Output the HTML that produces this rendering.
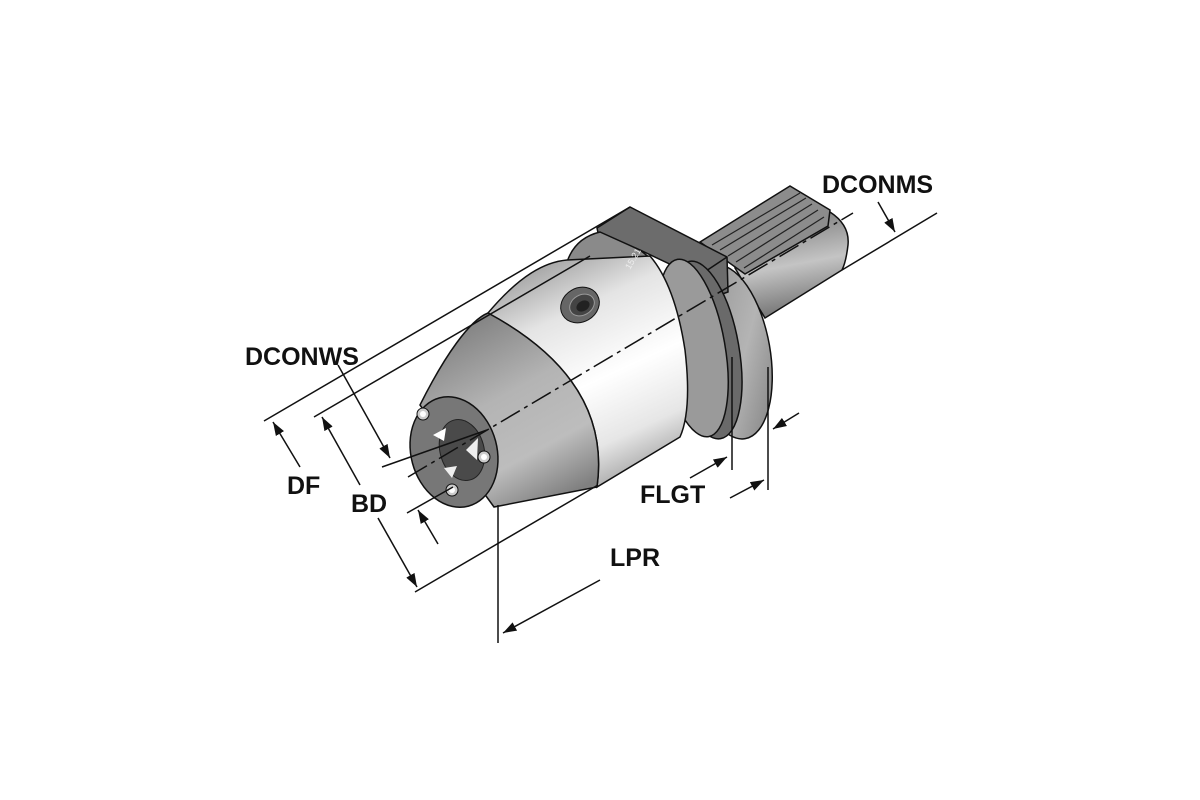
<!DOCTYPE html>
<html><head><meta charset="utf-8"><style>
html,body{margin:0;padding:0;background:#fff;}
svg{display:block;}
text{font-family:"Liberation Sans",Arial,sans-serif;font-weight:bold;font-size:25px;fill:#111;}
</style></head><body>
<svg width="1200" height="800" viewBox="0 0 1200 800" xmlns="http://www.w3.org/2000/svg">
<defs>
<marker id="ah" viewBox="0 0 10 10" refX="10" refY="5" markerWidth="9" markerHeight="9" orient="auto-start-reverse">
<path d="M0,1.5 L10,5 L0,8.5 Z" fill="#111"/></marker>
<linearGradient id="silver" x1="0.3" y1="0" x2="0.7" y2="1">
<stop offset="0" stop-color="#a0a0a0"/><stop offset="0.25" stop-color="#e4e4e4"/><stop offset="0.55" stop-color="#ffffff"/><stop offset="0.8" stop-color="#e6e6e6"/><stop offset="1" stop-color="#a0a0a0"/></linearGradient>
<linearGradient id="cone" x1="0.2" y1="0" x2="0.7" y2="1">
<stop offset="0" stop-color="#7a7a7a"/><stop offset="0.45" stop-color="#b4b4b4"/><stop offset="0.75" stop-color="#bdbdbd"/><stop offset="1" stop-color="#808080"/></linearGradient>
<linearGradient id="shank" x1="0.4" y1="0" x2="0.6" y2="1">
<stop offset="0" stop-color="#7a7a7a"/><stop offset="0.5" stop-color="#c4c4c4"/><stop offset="1" stop-color="#6a6a6a"/></linearGradient>
<linearGradient id="flange" x1="0" y1="0" x2="1" y2="1">
<stop offset="0" stop-color="#8a8a8a"/><stop offset="0.6" stop-color="#b4b4b4"/><stop offset="1" stop-color="#7a7a7a"/></linearGradient>
</defs>

<!-- shank -->
<path d="M735,268 L830,212 Q850,225 848,245 Q846,262 842,270 L765,318 Z" fill="url(#shank)" stroke="#111" stroke-width="1.5"/>
<!-- serrated block -->
<path d="M700,242 L790,186 L830,210 L828,226 L745,274 Z" fill="#8c8c8c" stroke="#111" stroke-width="1.5"/>
<g stroke="#222" stroke-width="1.2">
<line x1="712" y1="245" x2="800" y2="193"/><line x1="720" y1="250" x2="806" y2="198"/>
<line x1="728" y1="256" x2="812" y2="204"/><line x1="736" y1="262" x2="818" y2="210"/>
<line x1="744" y1="268" x2="824" y2="217"/>
</g>
<!-- flange disc -->
<ellipse cx="730" cy="352" rx="40" ry="88" transform="rotate(-10 730 352)" fill="url(#flange)" stroke="#111" stroke-width="1.5"/>
<!-- dark hex block -->
<path d="M597,228 L630,207 L727,257 L728,292 L700,302 L697,277 L640,250 L600,242 Z" fill="#6c6c6c" stroke="#111" stroke-width="1.5"/>
<line x1="697" y1="277" x2="727" y2="257" stroke="#111" stroke-width="1.5"/>
<!-- back ring behind silver -->
<path d="M567,262 Q575,238 600,232 L640,250 L650,258 L600,300 Z" fill="#8a8a8a" stroke="#111" stroke-width="1.5"/>
<!-- rings -->
<ellipse cx="705" cy="350" rx="34" ry="90" transform="rotate(-10 705 350)" fill="#6a6a6a" stroke="#111" stroke-width="1.5"/>
<ellipse cx="693" cy="348" rx="32" ry="90" transform="rotate(-10 693 348)" fill="#9a9a9a" stroke="#111" stroke-width="1.5"/>
<!-- silver cylinder -->
<path d="M488,313 C520,275 545,262 567,260 L650,256 Q675,285 685,350 Q692,410 680,437 L597,487 Q612,380 488,313 Z" fill="url(#silver)" stroke="#111" stroke-width="1.5"/>
<!-- screw hole -->
<ellipse cx="580" cy="305" rx="20" ry="17" transform="rotate(-30 580 305)" fill="#666" stroke="#111"/>
<ellipse cx="582" cy="305" rx="13" ry="10" transform="rotate(-30 582 305)" fill="#444" stroke="#999"/>
<ellipse cx="583" cy="306" rx="7" ry="5" transform="rotate(-30 583 306)" fill="#222"/>
<text x="630" y="270" transform="rotate(-60 630 270)" style="font-size:9px;font-weight:normal;fill:#eee">15.21</text>
<!-- cone -->
<path d="M420,405 C445,355 470,320 488,313 Q612,380 597,487 L494,507 Z" fill="url(#cone)" stroke="#111" stroke-width="1.5"/>
<!-- nose face -->
<ellipse cx="454" cy="452" rx="43" ry="56" transform="rotate(-15 454 452)" fill="#777" stroke="#111" stroke-width="1.5"/>
<ellipse cx="462" cy="450" rx="22" ry="31" transform="rotate(-15 462 450)" fill="#4a4a4a" stroke="#222"/>
<path d="M433,435 L446,428 L444,441 Z" fill="#fff"/>
<path d="M466,450 L478,438 L477,460 Z" fill="#eee"/>
<path d="M444,468 L457,466 L452,478 Z" fill="#eee"/>
<circle cx="423" cy="414" r="6" fill="#ccc" stroke="#111"/><circle cx="423" cy="414" r="3" fill="#fff"/>
<circle cx="484" cy="457" r="6" fill="#ccc" stroke="#111"/><circle cx="484" cy="457" r="3" fill="#fff"/>
<circle cx="452" cy="490" r="6" fill="#ccc" stroke="#111"/><circle cx="452" cy="490" r="3" fill="#fff"/>

<!-- dimension lines -->
<g stroke="#111" stroke-width="1.5" fill="none">
<line x1="264" y1="421" x2="630" y2="207"/>
<line x1="314" y1="417" x2="590" y2="256"/>
<line x1="408" y1="477" x2="853" y2="213" stroke-dasharray="22,5,4,5"/>
<line x1="382" y1="467" x2="487" y2="430"/>
<line x1="407" y1="513" x2="453" y2="487"/>
<line x1="415" y1="592" x2="598" y2="485"/>
<line x1="498" y1="505" x2="498" y2="643"/>
<line x1="732" y1="357" x2="732" y2="470"/>
<line x1="768" y1="367" x2="768" y2="490"/>
<line x1="842" y1="270" x2="937" y2="213"/>
<line x1="300" y1="467" x2="273" y2="422" marker-end="url(#ah)"/>
<line x1="360" y1="485" x2="322" y2="417" marker-end="url(#ah)"/>
<line x1="378" y1="518" x2="417" y2="587" marker-end="url(#ah)"/>
<line x1="338" y1="365" x2="390" y2="458" marker-end="url(#ah)"/>
<line x1="438" y1="544" x2="418" y2="510" marker-end="url(#ah)"/>
<line x1="600" y1="580" x2="503" y2="633" marker-end="url(#ah)"/>
<line x1="730" y1="498" x2="764" y2="480" marker-end="url(#ah)"/>
<line x1="690" y1="478" x2="727" y2="457" marker-end="url(#ah)"/>
<line x1="799" y1="413" x2="773" y2="429" marker-end="url(#ah)"/>
<line x1="878" y1="202" x2="895" y2="232" marker-end="url(#ah)"/>
</g>

<text x="822" y="193">DCONMS</text>
<text x="245" y="365">DCONWS</text>
<text x="287" y="494">DF</text>
<text x="351" y="512">BD</text>
<text x="640" y="503">FLGT</text>
<text x="610" y="566">LPR</text>
</svg>
</body></html>
